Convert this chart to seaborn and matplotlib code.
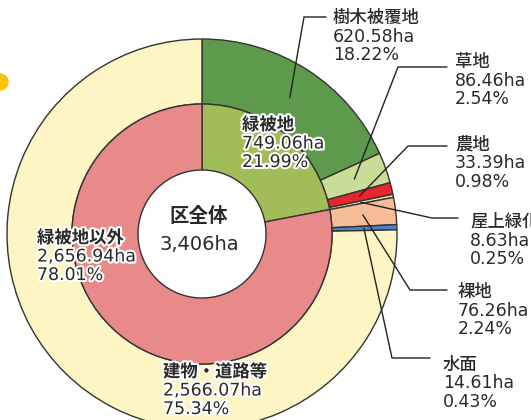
import numpy as np
import matplotlib
matplotlib.use("Agg")
import matplotlib.pyplot as plt
import matplotlib.patheffects as pe
import seaborn as sns

# data (ha, %)
outer_labels = ["樹木被覆地", "草地", "農地", "屋上緑化", "裸地", "水面", "建物・道路等"]
outer_ha = [620.58, 86.46, 33.39, 8.63, 76.26, 14.61, 2566.07]
outer_pct = ["18.22%", "2.54%", "0.98%", "0.25%", "2.24%", "0.43%", "75.34%"]
outer_colors = ["#5e9a4c", "#c9dc98", "#e8262b", "#f7e2b8", "#f6bd98", "#4f7fcc", "#fdf6c4"]

inner_labels = ["緑被地", "緑被地以外"]
inner_ha = [749.06, 2656.94]
inner_pct = ["21.99%", "78.01%"]
inner_colors = ["#a0bd57", "#e8898a"]

total_label = "区全体"
total_ha = "3,406ha"

sns.set_theme(style="white")
plt.rcParams["font.family"] = ["DejaVu Sans", "Noto Sans CJK JP"]

W, H = 531, 420
fig = plt.figure(figsize=(W / 100, H / 100), dpi=100)
ax = fig.add_axes([0, 0, 1, 1])

cx, cy = 202, H - 234
R_out, R_mid, R_in = 195, 130, 64
edge = dict(edgecolor="#333333", linewidth=1.0)

outer_w, _ = ax.pie(outer_ha, colors=outer_colors, radius=R_out, center=(cx, cy),
                    startangle=90, counterclock=False, frame=True,
                    wedgeprops=dict(width=R_out - R_mid, **edge))
inner_w, _ = ax.pie(inner_ha, colors=inner_colors, radius=R_mid, center=(cx, cy),
                    startangle=90, counterclock=False, frame=True,
                    wedgeprops=dict(width=R_mid - R_in, **edge))
ax.set_xlim(0, W)
ax.set_ylim(0, H)
ax.axis("off")

# yellow mark at the left edge (cropped decoration)
ax.add_patch(plt.Circle((0, H - 82), 8, color="#f6c400", clip_on=True))

txt_col = "#2a2a2a"
halo = [pe.withStroke(linewidth=3, foreground="white")]


def block(x, y, title, ha_str, pct, bold=False, outline=False, size=12.5):
    # y given in pixels from the top
    kw = dict(fontsize=size, color=txt_col, va="center", ha="left")
    if outline:
        kw["path_effects"] = halo
    ax.text(x, H - y, title, fontweight="bold" if bold else "medium", **kw)
    ax.text(x, H - y - 18.5, ha_str, **kw)
    ax.text(x, H - y - 37, pct, **kw)


def fmt(v):
    return f"{v:,.2f}ha"


# leader layout for the small outer slices: (elbow, end, text x, text y)
layout = {
    0: ((304, 17), (326, 17), 333, 18),
    1: ((398, 67), (447, 67), 455, 62),
    2: ((408, 146), (447, 146), 455, 145),
    3: ((432, 218), (458, 218), 470, 222),
    4: ((410, 290), (447, 290), 458, 292),
    5: ((392, 358), (430, 358), 443, 365),
}
for i, (elbow, end, tx, ty) in layout.items():
    w = outer_w[i]
    mid = np.deg2rad((w.theta1 + w.theta2) / 2)
    r0 = 162
    sx, sy = cx + r0 * np.cos(mid), cy + r0 * np.sin(mid)
    ax.plot([sx, elbow[0], end[0]], [sy, H - elbow[1], H - end[1]],
            color="#222222", linewidth=1.0, solid_joinstyle="miter")
    block(tx, ty, outer_labels[i], fmt(outer_ha[i]), outer_pct[i])

block(163, 372, outer_labels[6], fmt(outer_ha[6]), outer_pct[6], bold=True, outline=True)
block(242, 125, inner_labels[0], fmt(inner_ha[0]), inner_pct[0], bold=True, outline=True)
block(37, 238, inner_labels[1], fmt(inner_ha[1]), inner_pct[1], bold=True, outline=True)

ax.text(199, H - 217, total_label, fontsize=14, fontweight="bold", color=txt_col,
        ha="center", va="center")
ax.text(199, H - 244, total_ha, fontsize=14, color=txt_col, ha="center", va="center")

fig.savefig("out.png", dpi=100)
